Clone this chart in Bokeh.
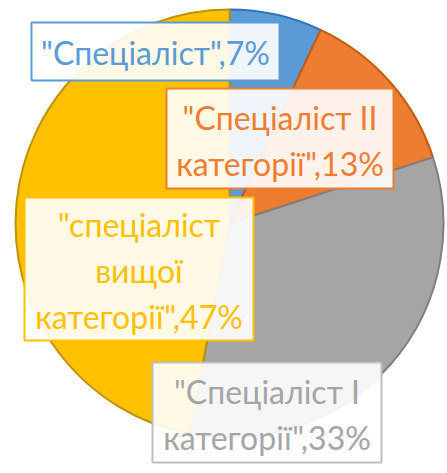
import math
from bokeh.plotting import figure
from bokeh.models import Range1d, ColumnDataSource
from bokeh.core.properties import value
from bokeh.embed import file_html
from bokeh.resources import INLINE

# ---- data ----
categories = ['"Спеціаліст"', '"Спеціаліст II\nкатегорії"', '"Спеціаліст I\nкатегорії"', '"спеціаліст\nвищої\nкатегорії"']
values = [7, 13, 33, 47]

# ---- styles ----
fill_colors = ["#5B9BD5", "#ED7D31", "#A5A5A5", "#FFC000"]
edge_colors = ["#2E75B6", "#C55A11", "#7F7F7F", "#BF9000"]
text_colors = ["#5B9BD5", "#ED7D31", "#A5A5A5", "#FFC000"]
box_edges = ["#5B9BD5", "#ED7D31", "#BFBFBF", "#FFC000"]

W, H = 447, 473
cx, cy, R = 229, H - 223, 214

total = sum(values)
starts, ends, acc = [], [], 0.0
for v in values:
    starts.append(math.pi / 2 - 2 * math.pi * acc / total)
    acc += v
    ends.append(math.pi / 2 - 2 * math.pi * acc / total)

labels = [f"{c},{round(100 * v / total)}%" for c, v in zip(categories, values)]

# label box layout (screen px: centre x, centre y, width, height), same order as categories
box_cx = [155, 279.5, 266.5, 138.5]
box_cy = [51, 138, 412, 268.5]
box_w = [248, 227, 229, 229]
box_h = [58, 100, 100, 143]
text_cy = [52, 140, 414, 270]

p = figure(width=W, height=H, x_range=Range1d(0, W), y_range=Range1d(0, H),
           output_backend="svg", toolbar_location=None, min_border=0)
p.axis.visible = False
p.grid.visible = False
p.outline_line_color = None
p.background_fill_color = "white"
p.border_fill_color = "white"

src = ColumnDataSource(dict(start=starts, end=ends, fill=fill_colors, edge=edge_colors))
p.wedge(x=cx, y=cy, radius=R, start_angle="start", end_angle="end", direction="clock",
        fill_color="fill", line_color="edge", line_width=2, source=src)

bsrc = ColumnDataSource(dict(x=box_cx, y=[H - y for y in box_cy], w=box_w, h=box_h,
                             edge=box_edges, tx=box_cx, ty=[H - y for y in text_cy],
                             text=labels, tc=text_colors))
p.rect(x="x", y="y", width="w", height="h", fill_color="white", fill_alpha=0.9,
       line_color="edge", line_width=2, source=bsrc)
p.text(x="tx", y="ty", text="text", text_color="tc", text_font=value("Lato"),
       text_font_size="32px", text_align="center", text_baseline="middle",
       text_line_height=1.17, source=bsrc)

open("out.html", "w").write(file_html(p, INLINE))
